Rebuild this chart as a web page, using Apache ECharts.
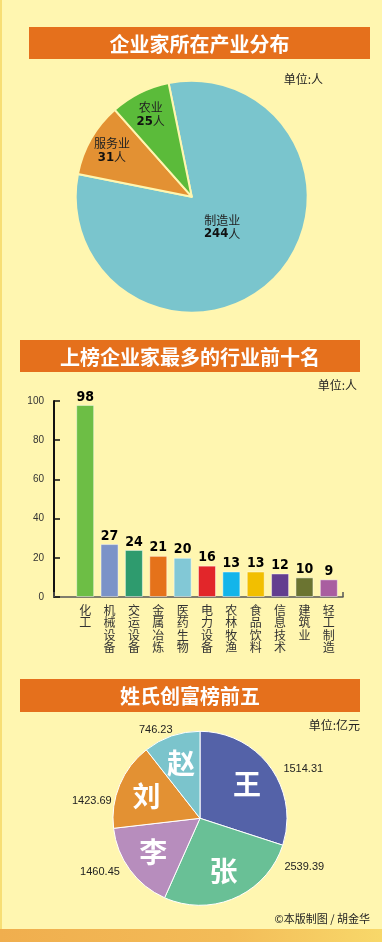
<!DOCTYPE html>
<html><head><meta charset="utf-8">
<script src="https://cdn.jsdelivr.net/npm/echarts@6/dist/echarts.min.js"></script>
<style>html,body{margin:0;padding:0;background:#FFF6B0;} #c{width:382px;height:942px;}</style>
</head><body><div id="c"></div>
<script>
// ---- data ----
const sectorNames = ['制造业', '服务业', '农业'];
const sectorCounts = [244, 31, 25];

const industryNames = ['化工', '机械设备', '交运设备', '金属冶炼', '医药生物', '电力设备', '农林牧渔', '食品饮料', '信息技术', '建筑业', '轻工制造'];
const industryCounts = [98, 27, 24, 21, 20, 16, 13, 13, 12, 10, 9];
const yTicks = [0, 20, 40, 60, 80, 100];

const surnames = ['王', '张', '李', '刘', '赵'];
const wealthValues = [1514.31, 2539.39, 1460.45, 1423.69, 746.23];
// slice sizes as drawn in the reference (degrees), which are not proportional to the printed values
const sliceDegrees = [108, 96, 59.4, 58.5, 38.1];

// ---- styles ----
const CJK = '"Noto Sans CJK SC", sans-serif';
const BG = '#FFF6B0';
const NARROW = '"DejaVu Sans Condensed", "Liberation Sans Narrow", "Arial Narrow", sans-serif';
const sectorColors = ['#7AC5CD', '#E39133', '#5BBB3A'];
const barColors = ['#6DBE45', '#7B93C8', '#2E9B6E', '#E5721A', '#82C8D6', '#E2262A', '#13B5EA', '#F2BF00', '#633E8F', '#6B7431', '#A95EA0'];
const surnameColors = ['#5462A8', '#69C096', '#B78DBD', '#E39133', '#7BC4CC'];

const chart = echarts.init(document.getElementById('c'), null, {renderer: 'canvas'});

function titleBar(x, y, w, h, text) {
  return [
    {type: 'rect', shape: {x: x, y: y, width: w, height: h}, style: {fill: '#E5701C'}, z: 1},
    {type: 'text', x: x + w / 2, y: y + h / 2 + 1, style: {text: text, fill: '#fff', fontSize: 20, fontWeight: 'bold', fontFamily: CJK, align: 'center', verticalAlign: 'middle'}, z: 2}
  ];
}
function unitText(x, y, text) {
  return {type: 'text', x: x, y: y, style: {text: text, fill: '#222', fontSize: 12, fontFamily: CJK, align: 'right', verticalAlign: 'middle'}, z: 2};
}

const sectorData = sectorNames.map((n, i) => ({name: n, value: sectorCounts[i], itemStyle: {color: sectorColors[i]}}));
const sectorLabelRich = {
  n: {fontSize: 12, fontFamily: CJK, color: '#222', lineHeight: 14},
  v: {fontSize: 13, fontWeight: 'bold', fontFamily: NARROW, color: '#111', lineHeight: 14},
  u: {fontSize: 12, fontFamily: CJK, color: '#222', lineHeight: 14}
};
function overlayData(showIdx) {
  return sectorNames.map((n, i) => ({name: n, value: sectorCounts[i], label: {show: showIdx.indexOf(i) >= 0}}));
}

const valueNudge = [[0, 2], [36, -31], [3, 2], [5, 16], [14, -6]];

const option = {
  backgroundColor: BG,
  animation: false,
  graphic: [
    {type: 'rect', shape: {x: 0, y: 0, width: 2, height: 942}, style: {fill: '#F7DE74'}, z: 0},
    {type: 'rect', shape: {x: 0, y: 929, width: 382, height: 13},
      style: {fill: new echarts.graphic.LinearGradient(0, 0, 1, 0, [{offset: 0, color: '#F0AE4E'}, {offset: 0.6, color: '#F3BC58'}, {offset: 1, color: '#F8D86A'}])}, z: 0},
    ...titleBar(29, 27, 341, 32, '企业家所在产业分布'),
    unitText(323, 79, '单位:人'),
    ...titleBar(20, 340, 340, 32, '上榜企业家最多的行业前十名'),
    unitText(357, 385, '单位:人'),
    ...titleBar(20, 679, 340, 33, '姓氏创富榜前五'),
    unitText(360, 725, '单位:亿元'),
    {type: 'text', x: 370, y: 919, style: {text: '©本版制图 / 胡金华', fill: '#222', fontSize: 11, fontFamily: CJK, align: 'right', verticalAlign: 'middle'}, z: 2}
  ],
  grid: [
    {left: 73, right: 41, top: 401, bottom: 345},
    {left: 54, right: 39, top: 401, bottom: 345}
  ],
  xAxis: [
    {type: 'category', gridIndex: 0, data: industryNames,
      axisLine: {show: false}, axisTick: {show: false},
      axisLabel: {interval: 0, margin: 7, fontSize: 12, lineHeight: 12.5, color: '#333', fontFamily: CJK,
        formatter: v => v.split('').join('\n')}},
    {type: 'value', gridIndex: 1, min: 0, max: 1, interval: 1,
      axisLine: {show: true, lineStyle: {color: '#555', width: 1.5}},
      axisTick: {show: true, inside: true, length: 5, lineStyle: {color: '#555', width: 1.5}},
      axisLabel: {show: false}, splitLine: {show: false}}
  ],
  yAxis: [
    {type: 'value', gridIndex: 0, min: yTicks[0], max: yTicks[yTicks.length - 1], show: false},
    {type: 'value', gridIndex: 1, min: yTicks[0], max: yTicks[yTicks.length - 1], interval: yTicks[1] - yTicks[0],
      axisLine: {show: true, lineStyle: {color: '#111', width: 2}},
      axisTick: {show: true, inside: true, length: 6, lineStyle: {color: '#111', width: 1.5}},
      axisLabel: {margin: 10, fontSize: 10, color: '#333', fontFamily: '"Liberation Sans", sans-serif'},
      splitLine: {show: false}}
  ],
  series: [
    // pie 1
    {type: 'pie', silent: true, center: [191.7, 196.7], radius: [0, 116], startAngle: 101.5, clockwise: true,
      data: sectorData, label: {show: false}, labelLine: {show: false},
      itemStyle: {borderColor: BG, borderWidth: 2}},
    {type: 'pie', silent: true, center: [191.7, 196.7], radius: [62, 116], startAngle: 101.5, clockwise: true,
      data: overlayData([1, 2]), itemStyle: {color: 'rgba(0,0,0,0)', borderWidth: 0},
      label: {position: 'inside', formatter: p => '{n|' + p.name + '}\n{v|' + p.value + '}{u|人}', rich: sectorLabelRich}, labelLine: {show: false}},
    {type: 'pie', silent: true, center: [191.7, 196.7], radius: [0, 80], startAngle: 101.5, clockwise: true,
      data: overlayData([0]), itemStyle: {color: 'rgba(0,0,0,0)', borderWidth: 0},
      label: {position: 'inside', formatter: p => '{n|' + p.name + '}\n{v|' + p.value + '}{u|人}', rich: sectorLabelRich}, labelLine: {show: false}},
    // bars
    {type: 'bar', xAxisIndex: 0, yAxisIndex: 0, data: industryCounts, barWidth: 18, silent: true,
      itemStyle: {color: p => barColors[p.dataIndex], borderColor: 'rgba(255,255,255,0.45)', borderWidth: 1},
      label: {show: true, position: 'top', distance: 1, color: '#000', fontSize: 14, fontWeight: 'bold',
        fontFamily: NARROW}},
    // pie 3
    {type: 'pie', silent: true, center: [200, 818.3], radius: [0, 87], startAngle: 90, clockwise: true,
      avoidLabelOverlap: false,
      data: surnames.map((n, i) => ({name: n, value: sliceDegrees[i], itemStyle: {color: surnameColors[i]}})),
      itemStyle: {borderColor: '#fff', borderWidth: 1},
      label: {show: true, position: 'outside', formatter: p => wealthValues[p.dataIndex].toFixed(2),
        fontSize: 11, color: '#222', fontFamily: '"Liberation Sans", sans-serif'},
      labelLine: {show: false, length: 0, length2: 8},
      labelLayout: p => ({dx: valueNudge[p.dataIndex][0], dy: valueNudge[p.dataIndex][1]})},
    {type: 'pie', silent: true, center: [200, 818.3], radius: [23, 87], startAngle: 90, clockwise: true,
      data: surnames.map((n, i) => ({name: n, value: sliceDegrees[i]})),
      itemStyle: {color: 'rgba(0,0,0,0)', borderWidth: 0},
      label: {show: true, position: 'inside', formatter: '{b}', color: '#fff', fontSize: 28, fontWeight: 'bold', fontFamily: CJK},
      labelLine: {show: false}}
  ]
};
chart.setOption(option);
</script>
</body></html>
